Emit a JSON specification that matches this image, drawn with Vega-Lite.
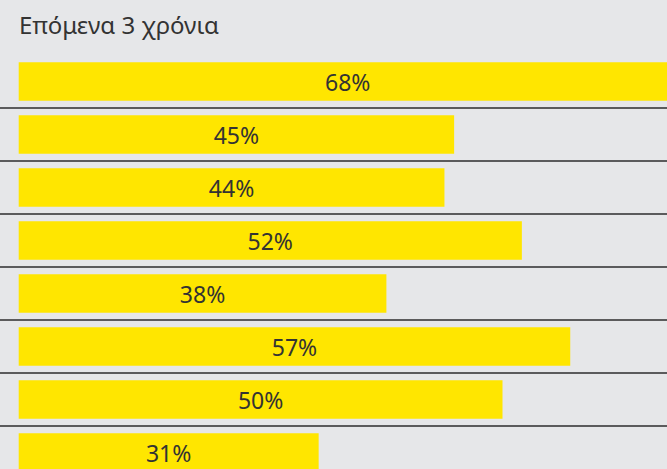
{
  "$schema": "https://vega.github.io/schema/vega-lite/v6.json",
  "width": 667,
  "height": 424,
  "autosize": {"type": "none"},
  "padding": {"left": 0, "top": 55, "right": 0, "bottom": 0},
  "background": "#e6e7e9",
  "config": {"view": {"stroke": null}},
  "title": {
    "text": "Επόμενα 3 χρόνια",
    "anchor": "start",
    "frame": "group",
    "dx": 19,
    "dy": 22,
    "offset": 19,
    "baseline": "alphabetic",
    "font": "Noto Sans",
    "fontSize": 24,
    "fontWeight": "normal",
    "color": "#333333"
  },
  "data": {
    "values": [
      {"row": "1", "value": 0.68},
      {"row": "2", "value": 0.45},
      {"row": "3", "value": 0.44},
      {"row": "4", "value": 0.52},
      {"row": "5", "value": 0.38},
      {"row": "6", "value": 0.57},
      {"row": "7", "value": 0.50},
      {"row": "8", "value": 0.31}
    ]
  },
  "encoding": {
    "y": {
      "field": "row",
      "type": "ordinal",
      "sort": null,
      "axis": null,
      "scale": {"paddingInner": 0, "paddingOuter": 0}
    }
  },
  "layer": [
    {
      "mark": {"type": "bar", "color": "#ffe600", "height": {"band": 0.73}, "clip": true},
      "encoding": {
        "x": {
          "field": "value",
          "type": "quantitative",
          "axis": null,
          "scale": {"domain": [0, 0.67], "range": [18.7, 667], "nice": false, "zero": true}
        }
      }
    },
    {
      "mark": {"type": "rule", "color": "#2d2d2d", "strokeWidth": 1.6},
      "encoding": {
        "y": {"field": "row", "type": "ordinal", "sort": null, "bandPosition": 1}
      }
    },
    {
      "mark": {"type": "text", "font": "Noto Sans", "fontSize": 23, "color": "#333333", "baseline": "middle", "align": "center", "dy": 2.5},
      "encoding": {
        "x": {
          "field": "value",
          "type": "quantitative",
          "axis": null,
          "scale": {"domain": [0, 1.34], "range": [18.7, 667], "nice": false, "zero": true}
        },
        "text": {"field": "value", "type": "quantitative", "format": ".0%"},
        "detail": {"field": "row"}
      }
    }
  ],
  "resolve": {"scale": {"x": "independent"}}
}
